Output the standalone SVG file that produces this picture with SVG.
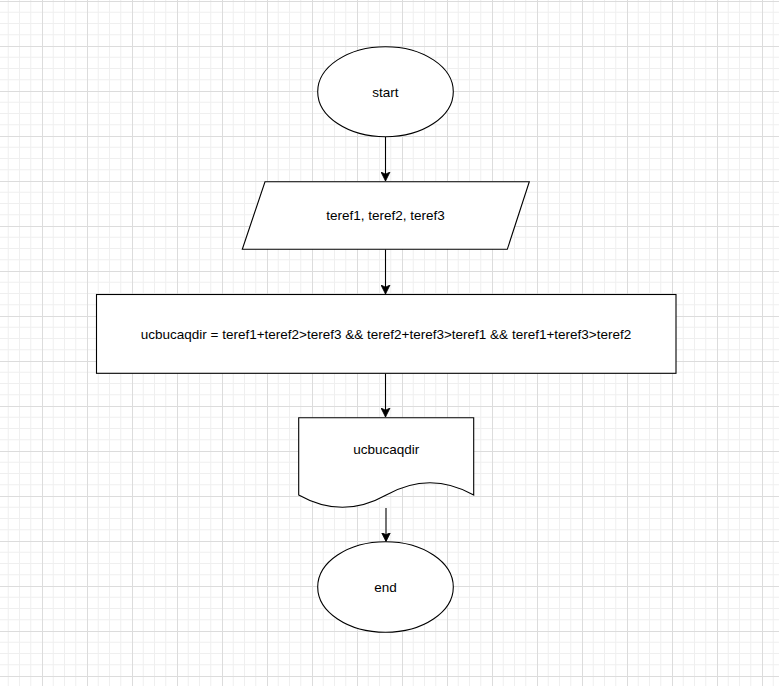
<svg xmlns="http://www.w3.org/2000/svg" width="779" height="686" viewBox="0 0 779 686">
<style>
.shape{fill:#ffffff;stroke:#000000;stroke-width:1.1}
.edge{fill:none;stroke:#000000;stroke-width:1.1}
.lbl{font-family:"Liberation Sans",Arial,sans-serif;font-size:13.5px;fill:#000000;text-anchor:middle}
</style>
<defs>
<pattern id="grid" x="-3" y="1" width="45" height="45" patternUnits="userSpaceOnUse">
<path d="M11.25 0V45M22.5 0V45M33.75 0V45M0 11.25H45M0 22.5H45M0 33.75H45" stroke="#efefef" stroke-width="1" fill="none"/>
<path d="M0.5 0V45M0 0.5H45" stroke="#dcdcdc" stroke-width="1" fill="none"/>
</pattern>
<marker id="arr" markerWidth="10" markerHeight="10" viewBox="0 0 10 10" refX="9" refY="5" orient="auto" markerUnits="userSpaceOnUse">
<path d="M9 5L0 0.5L2.2 5L0 9.5Z" fill="#000000" stroke="#000000" stroke-width="0.8"/>
</marker>
</defs>
<rect width="779" height="686" fill="#ffffff"/>
<rect width="779" height="686" fill="url(#grid)"/>
<g id="connectors">
<path class="edge" d="M385.5 137V181" marker-end="url(#arr)"/>
<path class="edge" d="M385.5 249.5V294" marker-end="url(#arr)"/>
<path class="edge" d="M385.5 373.5V417" marker-end="url(#arr)"/>
<path class="edge" d="M386 508V541.5" marker-end="url(#arr)"/>
</g>
<g id="start">
<ellipse class="shape" cx="385.5" cy="91.7" rx="67.8" ry="45"/>
<text class="lbl" x="385.5" y="96.5">start</text>
</g>
<g id="input">
<path class="shape" d="M265 181.7H529.3L507.3 249.3H242.3Z"/>
<text class="lbl" x="385.5" y="219.8">teref1, teref2, teref3</text>
</g>
<g id="process">
<rect class="shape" x="96.5" y="294.5" width="579.5" height="78.8"/>
<text class="lbl" x="386" y="338.7">ucbucaqdir = teref1+teref2&gt;teref3 &amp;&amp; teref2+teref3&gt;teref1 &amp;&amp; teref1+teref3&gt;teref2</text>
</g>
<g id="output">
<path class="shape" d="M298.7 417.7H473.7V495Q429.95 470.5 386.2 495Q342.45 519.6 298.7 495Z"/>
<text class="lbl" x="386.2" y="454">ucbucaqdir</text>
</g>
<g id="end">
<ellipse class="shape" cx="385.5" cy="587" rx="67.8" ry="45.3"/>
<text class="lbl" x="385.5" y="591.7">end</text>
</g>
</svg>
